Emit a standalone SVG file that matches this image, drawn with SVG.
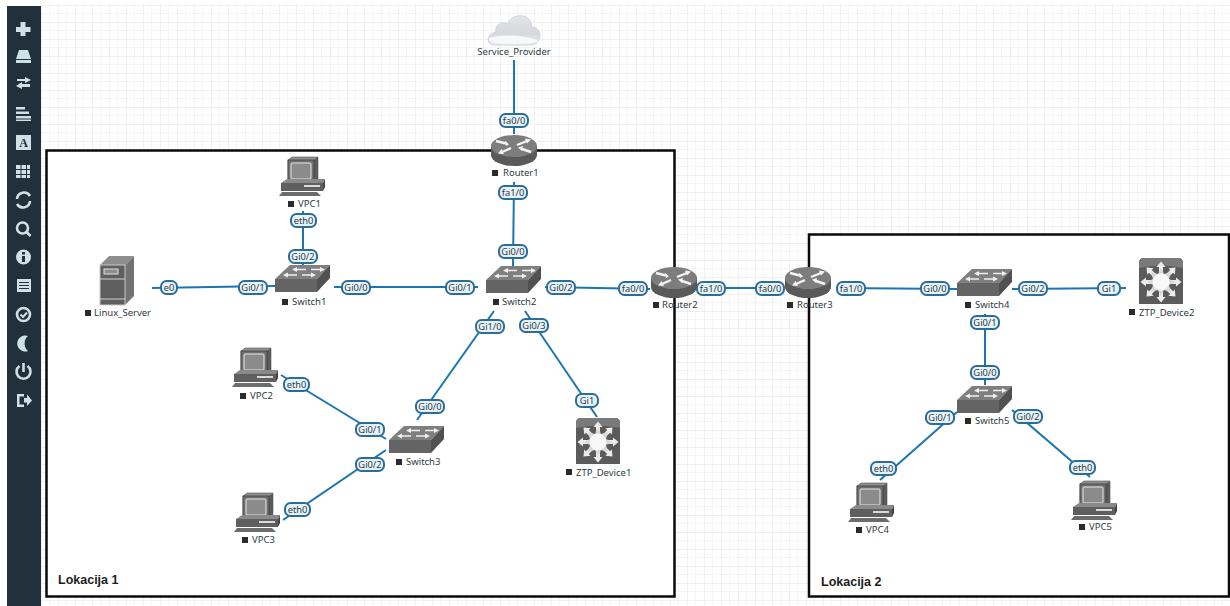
<svg xmlns="http://www.w3.org/2000/svg" width="1230" height="606" viewBox="0 0 1230 606">
<style>
.lk{stroke:#1b75b3;stroke-width:2;fill:none}
.pill rect{fill:#e6f3fb;stroke:#2c6c98;stroke-width:2}
text{font-family:"Noto Sans","Open Sans","Liberation Sans",sans-serif;fill:#2f3a42}
.pill text{font-size:9.3px;text-anchor:middle}
.nl{font-size:9.5px}
.sq{fill:#2b2b2b}
.frame{fill:#fff;stroke:#0a0a0a;stroke-width:2.5}
.loc{font-family:"Liberation Sans",Arial,sans-serif;font-weight:bold;font-size:12.5px;fill:#1c1c1c}
.ic{fill:#cfe0e6}
.ics{fill:none;stroke:#cfe0e6;stroke-width:2.6}
</style>
<defs>
<pattern id="grid" x="7" y="5" width="17" height="17" patternUnits="userSpaceOnUse">
<path d="M8.500 0V17M0 8.500H17" stroke="#f5f5f5" stroke-width="1"/>
<path d="M0 0V17M0 0H17" stroke="#ebebeb" stroke-width="1.300"/>
</pattern>
<linearGradient id="cl" x1="0" y1="0" x2="0" y2="1"><stop offset="0" stop-color="#e4e6ea"/><stop offset="0.6" stop-color="#d6d8dd"/><stop offset="1" stop-color="#eceef0"/></linearGradient>
<g id="router">
<path d="M-23 -4V5A23 11 0 0 0 23 5V-4Z" fill="#595959"/>
<ellipse cx="0" cy="-4" rx="23" ry="11" fill="#7d7d7d"/>
<g transform="translate(0,1)">
<path d="M-18 -10L-8 -7.500M3 -6L13 -10M-3 -3L-12 1M17 1L8 -2" stroke="#f4f4f4" stroke-width="2.400" fill="none"/>
<path d="M-5 -6.500L-9 -10.500L-8 -5ZM17 -11.500L11 -12.500L13 -7.500ZM-16 2.500L-10 3L-12.500 -2ZM4 -3.500L9 -5L8 0Z" fill="#f4f4f4"/>
</g>
</g>
<g id="switch">
<path d="M-27 -5L-12 -19H28L15 -5Z" fill="#7f7f7f"/>
<path d="M15 -5L28 -19V-6L15 8Z" fill="#515151"/>
<rect x="-27" y="-5" width="42" height="13" fill="#646464"/>
<path d="M-6 -14.500H4M9 -14.500H19M-15 -9H-5M0 -9H10" stroke="#f0f0f0" stroke-width="1.500" fill="none"/>
<path d="M-10 -14.500L-5 -17V-12ZM23 -14.500L18 -17V-12ZM-19 -9L-14 -11.500V-6.500ZM14 -9L9 -11.500V-6.500Z" fill="#f0f0f0"/>
</g>
<g id="pc">
<path d="M-15 -20L-11 -23H15V2H-15Z" fill="#8f8f8f" stroke="#555" stroke-width="0.600"/>
<path d="M15 -23V1L11 3V-20Z" fill="#5a5a5a"/>
<rect x="-15" y="-20" width="26" height="23" fill="#707070" stroke="#3f3f3f" stroke-width="0.800"/>
<rect x="-12" y="-17" width="20" height="16" rx="1" fill="#8b8b8b" stroke="#e8e8e8" stroke-width="1"/>
<path d="M-22 3L-16 -1H22L20 3Z" fill="#8a8a8a"/>
<rect x="-22" y="3" width="42" height="8" fill="#5f5f5f"/>
<path d="M20 3L22 -1V7L20 11Z" fill="#444"/>
<rect x="1" y="5" width="16" height="2" fill="#dadada"/>
<path d="M-21 12H14L18 16H-24Z" fill="#6c6c6c"/>
</g>
<g id="server">
<path d="M-17 -17L-8 -26H17L8 -17Z" fill="#8e8e8e"/>
<path d="M8 -17L17 -26V14L8 23Z" fill="#737373"/>
<rect x="-17" y="-17" width="25" height="40" fill="#5f5f5f" stroke="#c8c8c8" stroke-width="1"/>
<path d="M-17 -3H8M-17 17H8" stroke="#cfcfcf" stroke-width="1.200"/>
<rect x="-13" y="-13" width="14" height="5" fill="#8d8d8d" stroke="#e0e0e0" stroke-width="1"/>
</g>
<path id="sp" d="M-2 -9V-15H-4.500L0 -20.500L4.500 -15H2V-9Z" fill="#ececec"/>
<g id="ztp">
<path d="M-22 23V-18Q-22 -23 -17 -23H17Q22 -23 22 -18V23Z" fill="#5b5b5b"/>
<path d="M-22 -13V-18Q-22 -23 -17 -23H17Q22 -23 22 -18V-13Q0 -18 -22 -13Z" fill="#7a7a7a"/>
<g transform="translate(0,1)">
<use href="#sp"/><use href="#sp" transform="rotate(45)"/><use href="#sp" transform="rotate(90)"/><use href="#sp" transform="rotate(135)"/><use href="#sp" transform="rotate(180)"/><use href="#sp" transform="rotate(225)"/><use href="#sp" transform="rotate(270)"/><use href="#sp" transform="rotate(315)"/>
<path d="M-14 0L-8 -3L-10 -10L-3 -8L0 -14L3 -8L10 -10L8 -3L14 0L8 3L10 10L3 8L0 14L-3 8L-10 10L-8 3Z" fill="#d8d8d8"/>
<circle cx="0" cy="0" r="8.500" fill="#f8f8f8"/>
</g>
</g>
<g id="cloud">
<path d="M-20 15C-28 15 -28 4 -18 2C-20 -6 -10 -9 -6 -6C-3 -17 17 -18 18 -3C28 -3 29 13 18 15Z" fill="url(#cl)" stroke="#d0d3d7" stroke-width="1"/>
<path d="M-25 8C-10 4 10 5 25 11C15 15 -15 15 -25 11Z" fill="#f7f8f9"/>
</g>
</defs>
<rect width="1230" height="606" fill="#fff"/>
<rect x="41" y="5" width="1189" height="601" fill="url(#grid)"/>
<rect x="7" y="6" width="34" height="600" fill="#21303a"/>
<g id="toolbar">
<path class="ic" d="M20.500 22H25.500V27H30.500V32H25.500V36H20.500V32H16V27H20.500Z"/>
<path class="ic" d="M19 50H28L31 59H16Z"/><rect class="ic" x="16" y="60" width="15" height="3"/>
<path class="ic" d="M17 80H25V78L31 81L25 84V82H17ZM30 85H22V83L16 87L22 90V88H30Z" transform="translate(0,-1)"/>
<path class="ic" d="M16 107H25V109.500H16ZM16 111.500H29V114H16ZM16 116H31V118.500H16ZM16 119.500H31V121H16Z"/>
<rect class="ic" x="16" y="135" width="15" height="15"/><text x="23.500" y="147" font-size="12" font-weight="bold" text-anchor="middle" style="font-family:'Liberation Serif',serif;fill:#21303a">A</text>
<path class="ic" d="M16 165H20.500V169H16ZM21.500 165H26V169H21.500ZM27 165H30V169H27ZM16 170H20.500V174H16ZM21.500 170H26V174H21.500ZM27 170H30V174H27ZM16 175H20.500V178H16ZM21.500 175H26V178H21.500ZM27 175H30V178H27Z"/>
<path class="ics" d="M30 196A7 7 0 0 0 17 199M17 204A7 7 0 0 0 30 201"/>
<circle class="ics" cx="22.500" cy="228" r="5.500"/><path class="ics" d="M26.500 232L30.500 236"/>
<circle class="ic" cx="23.500" cy="257" r="7.500"/><rect x="22" y="256" width="3" height="6" fill="#21303a"/><rect x="22" y="252" width="3" height="2.500" fill="#21303a"/>
<rect class="ic" x="17" y="279" width="14" height="13"/><path d="M19 282.500H29M19 285.500H29M19 288.500H29" stroke="#21303a" stroke-width="1"/>
<circle class="ics" cx="23.500" cy="314.500" r="6.500"/><path d="M20.500 314.500L23 317L27 312.500" stroke="#cfe0e6" stroke-width="2" fill="none"/>
<path class="ic" d="M28 336A8 8 0 1 0 28 351A10 10 0 0 1 28 336Z"/>
<path class="ics" d="M19.500 366A7 7 0 1 0 27.500 366M23.500 363V372"/>
<path class="ic" d="M17 394H24V396.500H19.500V404.500H24V407H17ZM24 398H27V394.500L32 400.500L27 406V402.500H24Z"/>
</g>
<g id="frames">
<rect class="frame" x="46.500" y="150.500" width="628" height="446"/>
<rect class="frame" x="809" y="234.500" width="420" height="362"/>
<text class="loc" x="58" y="584">Lokacija 1</text>
<text class="loc" x="821" y="586">Lokacija 2</text>
</g>
<g id="connectors">
<path class="lk" d="M514 60V134"/>
<path class="lk" d="M514 182L513 266"/>
<path class="lk" d="M303 211V265"/>
<path class="lk" d="M152 288L275 286"/>
<path class="lk" d="M334 287H478"/>
<path class="lk" d="M545 287L650 289"/>
<path class="lk" d="M695 288H785"/>
<path class="lk" d="M836 288L957 289"/>
<path class="lk" d="M1012 289L1126 288"/>
<path class="lk" d="M985 314V385"/>
<path class="lk" d="M957 412L880 480"/>
<path class="lk" d="M1012 410L1090 477"/>
<path class="lk" d="M494 311L417 420"/>
<path class="lk" d="M525 311L597 417"/>
<path class="lk" d="M281 375L386 439"/>
<path class="lk" d="M283 520L386 450"/>
</g>
<g id="n-cloud"><use href="#cloud" x="514" y="30"/><text class="nl" x="514" y="55" text-anchor="middle">Service_Provider</text></g>
<g id="n-router1"><use href="#router" x="514" y="150"/><rect class="sq" x="492" y="170" width="6" height="6"/><text class="nl" x="503" y="176">Router1</text></g>
<g id="n-router2"><use href="#router" x="674" y="282"/><rect class="sq" x="653" y="302" width="6" height="6"/><text class="nl" x="662" y="308">Router2</text></g>
<g id="n-router3"><use href="#router" x="808" y="282"/><rect class="sq" x="787" y="302" width="6" height="6"/><text class="nl" x="797" y="308">Router3</text></g>
<g id="n-switch1"><use href="#switch" x="302" y="284"/><rect class="sq" x="282" y="299" width="6" height="6"/><text class="nl" x="292" y="305">Switch1</text></g>
<g id="n-switch2"><use href="#switch" x="513" y="285"/><rect class="sq" x="493" y="299" width="6" height="6"/><text class="nl" x="502" y="305">Switch2</text></g>
<g id="n-switch3"><use href="#switch" x="416" y="445"/><rect class="sq" x="396" y="459" width="6" height="6"/><text class="nl" x="406" y="465">Switch3</text></g>
<g id="n-switch4"><use href="#switch" x="984" y="288"/><rect class="sq" x="965" y="302" width="6" height="6"/><text class="nl" x="975" y="308">Switch4</text></g>
<g id="n-switch5"><use href="#switch" x="984" y="405"/><rect class="sq" x="965" y="418" width="6" height="6"/><text class="nl" x="975" y="424">Switch5</text></g>
<g id="n-vpc1"><use href="#pc" x="303" y="180"/><rect class="sq" x="288" y="201" width="6" height="6"/><text class="nl" x="298" y="207">VPC1</text></g>
<g id="n-vpc2"><use href="#pc" x="256" y="371"/><rect class="sq" x="240" y="393" width="6" height="6"/><text class="nl" x="250" y="399">VPC2</text></g>
<g id="n-vpc3"><use href="#pc" x="258" y="516"/><rect class="sq" x="242" y="537" width="6" height="6"/><text class="nl" x="252" y="543">VPC3</text></g>
<g id="n-vpc4"><use href="#pc" x="872" y="506"/><rect class="sq" x="856" y="527" width="6" height="6"/><text class="nl" x="866" y="533">VPC4</text></g>
<g id="n-vpc5"><use href="#pc" x="1095" y="504"/><rect class="sq" x="1079" y="524" width="6" height="6"/><text class="nl" x="1089" y="530">VPC5</text></g>
<g id="n-server"><use href="#server" x="117" y="282"/><rect class="sq" x="85" y="310" width="6" height="6"/><text class="nl" x="94" y="316">Linux_Server</text></g>
<g id="n-ztp1"><use href="#ztp" x="598" y="441"/><rect class="sq" x="566" y="469" width="6" height="6"/><text class="nl" x="576" y="476">ZTP_Device1</text></g>
<g id="n-ztp2"><use href="#ztp" x="1161" y="281"/><rect class="sq" x="1129" y="309" width="6" height="6"/><text class="nl" x="1139" y="316">ZTP_Device2</text></g>
<g id="port-labels">
<g class="pill"><rect x="500" y="114" width="28" height="13" rx="5.500"/><text x="514" y="124">fa0/0</text></g>
<g class="pill"><rect x="499" y="186" width="28" height="13" rx="5.500"/><text x="513" y="196">fa1/0</text></g>
<g class="pill"><rect x="499" y="245" width="28" height="13" rx="5.500"/><text x="513" y="255">Gi0/0</text></g>
<g class="pill"><rect x="291" y="214" width="25" height="13" rx="5.500"/><text x="303.500" y="224">eth0</text></g>
<g class="pill"><rect x="289" y="250" width="28" height="13" rx="5.500"/><text x="303" y="260">Gi0/2</text></g>
<g class="pill"><rect x="161" y="281" width="16" height="13" rx="5.500"/><text x="169" y="291">e0</text></g>
<g class="pill"><rect x="239" y="281" width="28" height="13" rx="5.500"/><text x="253" y="291">Gi0/1</text></g>
<g class="pill"><rect x="342" y="281" width="28" height="13" rx="5.500"/><text x="356" y="291">Gi0/0</text></g>
<g class="pill"><rect x="446" y="281" width="28" height="13" rx="5.500"/><text x="460" y="291">Gi0/1</text></g>
<g class="pill"><rect x="547" y="281" width="28" height="13" rx="5.500"/><text x="561" y="291">Gi0/2</text></g>
<g class="pill"><rect x="619" y="282" width="28" height="13" rx="5.500"/><text x="633" y="292">fa0/0</text></g>
<g class="pill"><rect x="697" y="282" width="28" height="13" rx="5.500"/><text x="711" y="292">fa1/0</text></g>
<g class="pill"><rect x="756" y="282" width="28" height="13" rx="5.500"/><text x="770" y="292">fa0/0</text></g>
<g class="pill"><rect x="837" y="282" width="28" height="13" rx="5.500"/><text x="851" y="292">fa1/0</text></g>
<g class="pill"><rect x="921" y="282" width="28" height="13" rx="5.500"/><text x="935" y="292">Gi0/0</text></g>
<g class="pill"><rect x="1019" y="282" width="28" height="13" rx="5.500"/><text x="1033" y="292">Gi0/2</text></g>
<g class="pill"><rect x="1098" y="282" width="22" height="13" rx="5.500"/><text x="1109" y="292">Gi1</text></g>
<g class="pill"><rect x="971" y="316" width="28" height="13" rx="5.500"/><text x="985" y="326">Gi0/1</text></g>
<g class="pill"><rect x="971" y="366" width="28" height="13" rx="5.500"/><text x="985" y="376">Gi0/0</text></g>
<g class="pill"><rect x="926" y="411" width="28" height="13" rx="5.500"/><text x="940" y="421">Gi0/1</text></g>
<g class="pill"><rect x="1014" y="410" width="28" height="13" rx="5.500"/><text x="1028" y="420">Gi0/2</text></g>
<g class="pill"><rect x="871" y="462" width="25" height="13" rx="5.500"/><text x="883.500" y="472">eth0</text></g>
<g class="pill"><rect x="1070" y="461" width="25" height="13" rx="5.500"/><text x="1082.500" y="471">eth0</text></g>
<g class="pill"><rect x="476" y="320" width="28" height="13" rx="5.500"/><text x="490" y="330">Gi1/0</text></g>
<g class="pill"><rect x="520" y="319" width="28" height="13" rx="5.500"/><text x="534" y="329">Gi0/3</text></g>
<g class="pill"><rect x="416" y="400" width="28" height="13" rx="5.500"/><text x="430" y="410">Gi0/0</text></g>
<g class="pill"><rect x="576" y="394" width="22" height="13" rx="5.500"/><text x="587" y="404">Gi1</text></g>
<g class="pill"><rect x="284" y="378" width="25" height="13" rx="5.500"/><text x="296.500" y="388">eth0</text></g>
<g class="pill"><rect x="356" y="423" width="28" height="13" rx="5.500"/><text x="370" y="433">Gi0/1</text></g>
<g class="pill"><rect x="356" y="458" width="28" height="13" rx="5.500"/><text x="370" y="468">Gi0/2</text></g>
<g class="pill"><rect x="285" y="503" width="25" height="13" rx="5.500"/><text x="297.500" y="513">eth0</text></g>
</g>
</svg>
